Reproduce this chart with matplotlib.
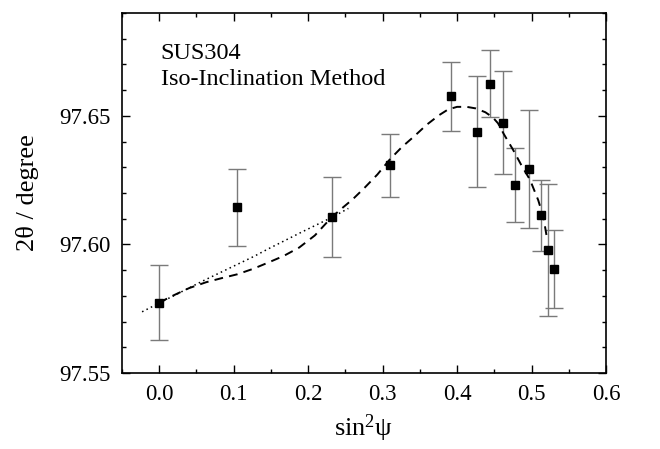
import matplotlib
matplotlib.use("Agg")
import matplotlib.pyplot as plt
from matplotlib.ticker import MultipleLocator, FormatStrFormatter

plt.rcParams['font.family'] = ['Liberation Serif', 'DejaVu Serif']
plt.rcParams['mathtext.fontset'] = 'custom'
plt.rcParams['mathtext.rm'] = 'Liberation Serif'
plt.rcParams['mathtext.it'] = 'Liberation Serif:italic'

# measured points
sin2psi = [0.0, 0.1038, 0.2317, 0.3095, 0.3922, 0.4267, 0.4436, 0.4611, 0.4780, 0.4964, 0.5125, 0.5219, 0.5300]
two_theta = [97.5774, 97.6145, 97.6108, 97.6308, 97.6576, 97.6438, 97.6625, 97.6474, 97.6231, 97.6294, 97.6114, 97.5979, 97.5903]
err = [0.0147, 0.0150, 0.0155, 0.0122, 0.0134, 0.0216, 0.0130, 0.0200, 0.0143, 0.0230, 0.0138, 0.0257, 0.0152]

# dashed fit curve
fit_x = [0.0, 0.02, 0.04, 0.063, 0.084, 0.105, 0.126, 0.146, 0.167, 0.188, 0.209, 0.232,
         0.246, 0.26, 0.276, 0.293, 0.3095, 0.326, 0.343, 0.359, 0.376, 0.388, 0.400, 0.413,
         0.425, 0.438, 0.448, 0.455, 0.463, 0.475, 0.486, 0.498, 0.509, 0.516, 0.521]
fit_y = [97.5774, 97.5803, 97.5830, 97.5853, 97.5869, 97.5884, 97.5905, 97.5929, 97.5955,
         97.5988, 97.6035, 97.6107, 97.6142, 97.6176, 97.6221, 97.6272, 97.6330, 97.6379,
         97.6422, 97.6465, 97.6503, 97.6525, 97.6535, 97.6535, 97.6529, 97.6514, 97.6494,
         97.6471, 97.6428, 97.6369, 97.6310, 97.6251, 97.6172, 97.6105, 97.6020]

# dotted line
lin_x = [-0.023, 0.0, 0.06, 0.1276, 0.1459, 0.192, 0.2317, 0.254]
lin_y = [97.5738, 97.5772, 97.5860, 97.5954, 97.5982, 97.6049, 97.6105, 97.6140]

fig = plt.figure(figsize=(6.6, 4.49), dpi=100)
ax = fig.add_axes([122/660, 1 - 373/449, (606-122)/660, (373-13)/449])

ax.errorbar(sin2psi, two_theta, yerr=err, fmt='none', ecolor='#7a7a7a',
            elinewidth=1.0, capsize=6.5, capthick=1.0, zorder=2)
ax.plot(fit_x, fit_y, color='black', lw=1.4, dashes=(4.5, 3.2), zorder=3)
ax.plot(lin_x, lin_y, color='black', lw=1.1, dashes=(1, 2.2), zorder=3)
ax.plot(sin2psi, two_theta, 's', color='black', ms=5.6, zorder=4)

ax.set_xlim(-0.05, 0.6)
ax.set_ylim(97.55, 97.69)
ax.xaxis.set_major_locator(MultipleLocator(0.1))
ax.xaxis.set_minor_locator(MultipleLocator(0.05))
ax.yaxis.set_major_locator(MultipleLocator(0.05))
ax.yaxis.set_minor_locator(MultipleLocator(0.01))
ax.xaxis.set_major_formatter(FormatStrFormatter('%.1f'))
ax.yaxis.set_major_formatter(FormatStrFormatter('%.2f'))
ax.tick_params(which='both', direction='in', top=True, right=True, labelsize=16.5, width=1.0)
ax.tick_params(which='major', length=5.5, pad=8)
ax.tick_params(which='minor', length=3)
for s in ax.spines.values():
    s.set_linewidth(1.2)

ax.set_xlabel(r'sin$^2$ψ', fontsize=19, labelpad=5)
ax.set_ylabel('2θ / degree', fontsize=19, labelpad=15)

ax.text(0.08, 0.872, 'SUS304', transform=ax.transAxes, fontsize=17.5, va='baseline')
ax.text(0.08, 0.80, 'Iso-Inclination Method', transform=ax.transAxes, fontsize=17.5, va='baseline')

fig.savefig('out.png', dpi=100)
